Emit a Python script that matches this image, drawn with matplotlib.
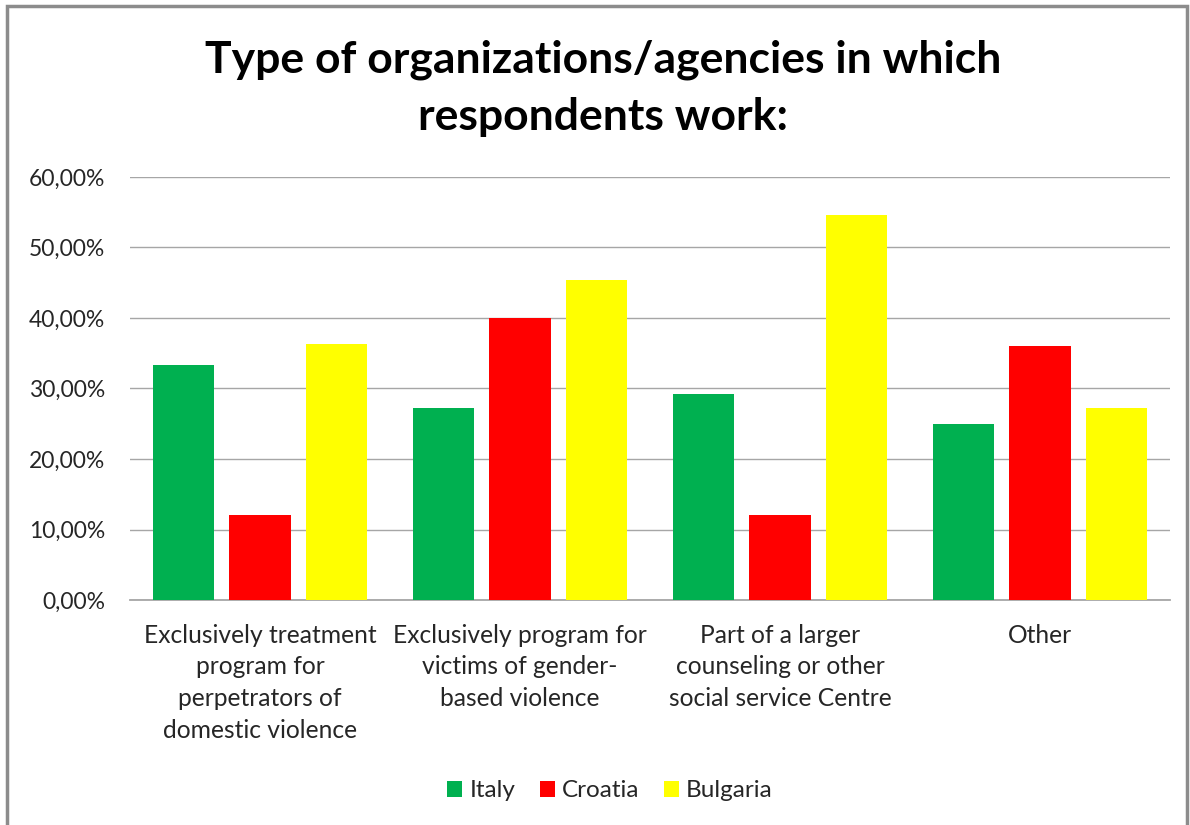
import numpy as np
import matplotlib
matplotlib.use("Agg")
import matplotlib.pyplot as plt
from matplotlib.patches import Rectangle
from matplotlib.ticker import FuncFormatter, MultipleLocator

plt.rcParams['font.family'] = ['Lato', 'DejaVu Sans']

categories = [
    "Exclusively treatment\nprogram for\nperpetrators of\ndomestic violence",
    "Exclusively program for\nvictims of gender-\nbased violence",
    "Part of a larger\ncounseling or other\nsocial service Centre",
    "Other",
]
countries = ["Italy", "Croatia", "Bulgaria"]
italy = [33.33, 27.27, 29.17, 25.00]
croatia = [12.00, 40.00, 12.00, 36.00]
bulgaria = [36.36, 45.45, 54.55, 27.27]
colors = ["#00B050", "#FF0000", "#FFFF00"]

series = [italy, croatia, bulgaria]

fig = plt.figure(figsize=(11.9, 8.25), dpi=100)
ax = fig.add_axes([0.1092, 0.2727, 0.874, 0.5128])

x = np.arange(len(categories))
width = 0.235
offset = 0.294
for i, (vals, name, col) in enumerate(zip(series, countries, colors)):
    ax.bar(x + (i - 1) * offset, vals, width=width, color=col, label=name, zorder=3)

ax.set_xlim(-0.5, len(categories) - 0.5)
ax.set_ylim(0, 60)
ax.yaxis.set_major_locator(MultipleLocator(10))
ax.yaxis.set_major_formatter(FuncFormatter(lambda v, p: f"{v:.2f}%".replace(".", ",")))
ax.grid(axis='y', color='#A6A6A6', linewidth=1.0, zorder=0)
for s in ['top', 'right', 'left']:
    ax.spines[s].set_visible(False)
ax.spines['bottom'].set_color('#A6A6A6')
ax.spines['bottom'].set_linewidth(1.3)
ax.tick_params(axis='y', length=0, pad=18, labelsize=16.5, labelcolor='#262626')
ax.tick_params(axis='x', length=0, pad=17, labelsize=17.7, labelcolor='#262626')
ax.set_xticks(x)
ax.set_xticklabels(categories, linespacing=1.46, va='top')

fig.text(0.507, 0.893, "Type of organizations/agencies in which\nrespondents work:",
         ha='center', va='center', fontsize=32, fontweight='bold', linespacing=1.5,
         color='black')

leg = fig.legend(loc='center', bbox_to_anchor=(0.5125, 0.0415), ncol=3, frameon=False,
                 fontsize=17.5, handlelength=0.62, handleheight=0.62, handletextpad=0.3,
                 columnspacing=1.0, labelcolor='#262626')

fig.patches.append(Rectangle((7 / 1190, -0.01), 1180 / 1190, 1 - 6 / 825 + 0.01,
                             transform=fig.transFigure, fill=False,
                             edgecolor='#8C8C8C', linewidth=2.5))

fig.savefig("out.png", dpi=100)
